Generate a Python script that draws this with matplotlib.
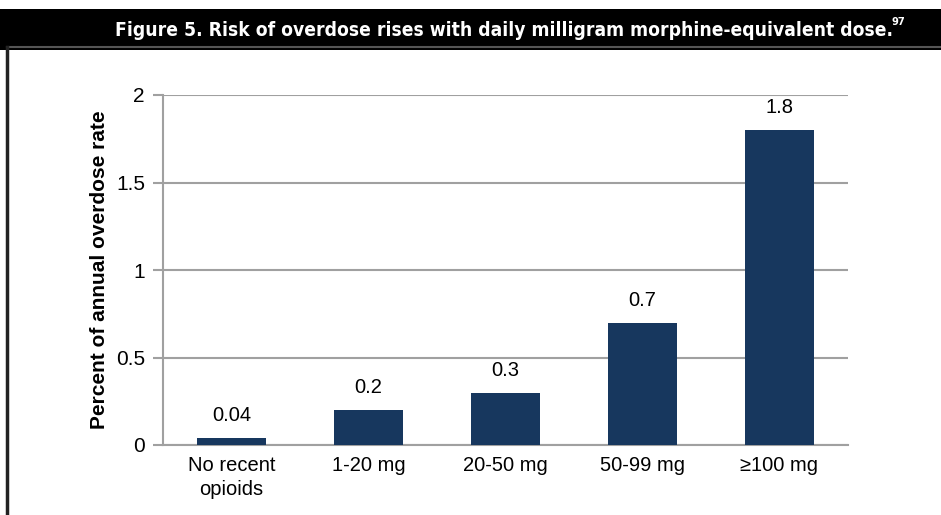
import matplotlib
matplotlib.use("Agg")
import matplotlib.pyplot as plt
from matplotlib.lines import Line2D
from matplotlib.patches import Rectangle

categories = ["No recent\nopioids", "1-20 mg", "20-50 mg", "50-99 mg", "\u2265100 mg"]
overdose_rate = [0.04, 0.2, 0.3, 0.7, 1.8]
value_labels = ["0.04", "0.2", "0.3", "0.7", "1.8"]
y_ticks = [0, 0.5, 1, 1.5, 2]
y_tick_labels = ["0", "0.5", "1", "1.5", "2"]

W, H = 941, 515
fig = plt.figure(figsize=(W / 100, H / 100), dpi=100)
fig.patch.set_facecolor("white")

# title banner
fig.patches.append(Rectangle((0, 1 - 50 / H), 1, 41 / H, transform=fig.transFigure,
                             facecolor="black", edgecolor="none", zorder=0))
title = fig.text(115 / W, 1 - 30 / H,
                 "Figure 5. Risk of overdose rises with daily milligram morphine-equivalent dose.",
                 ha="left", va="center", color="white", fontsize=13.8, fontweight="bold",
                 family="DejaVu Sans", fontstretch="condensed")
fig.canvas.draw()
bb = title.get_window_extent(fig.canvas.get_renderer())
fig.text((bb.x1 - 2) / W, 1 - 22 / H, "97", ha="left", va="center", color="white",
         fontsize=8, fontweight="bold", family="DejaVu Sans", fontstretch="condensed")
# frame lines below the banner
fig.add_artist(Line2D([7 / W, 1], [1 - 47 / H, 1 - 47 / H], transform=fig.transFigure,
                      color="#555555", lw=1.5))
fig.add_artist(Line2D([7 / W, 7 / W], [0, 1 - 47 / H], transform=fig.transFigure,
                      color="#222222", lw=2.5))

ax = fig.add_axes([163 / W, 1 - 445 / H, (848 - 163) / W, (445 - 95) / H])
x = list(range(len(categories)))
bars = ax.bar(x, overdose_rate, width=0.5, color="#17375E", zorder=3)
ax.set_xlim(-0.5, len(categories) - 0.5)
ax.set_ylim(0, 2)
ax.set_yticks(y_ticks)
ax.set_yticklabels(y_tick_labels, fontsize=15, family="Liberation Sans")
ax.set_xticks(x)
ax.set_xticklabels(categories, fontsize=14.5, family="Liberation Sans", linespacing=1.35)
ax.tick_params(axis="x", length=0, pad=8)
ax.tick_params(axis="y", length=7, color="#A0A0A0", width=1.5, pad=6)
ax.grid(axis="y", color="#A0A0A0", lw=1.5, zorder=0)
for s in ["top", "right"]:
    ax.spines[s].set_visible(False)
for s in ["left", "bottom"]:
    ax.spines[s].set_color("#A0A0A0")
    ax.spines[s].set_linewidth(1.5)

for xi, v, lab in zip(x, overdose_rate, value_labels):
    ax.annotate(lab, (xi, v), xytext=(0, 16), textcoords="offset points",
                ha="center", va="center", fontsize=14.5, family="Liberation Sans")

ax.set_ylabel("Percent of annual overdose rate", fontsize=15, fontweight="bold",
              family="Liberation Sans", labelpad=5)

fig.savefig("out.png", dpi=100)
